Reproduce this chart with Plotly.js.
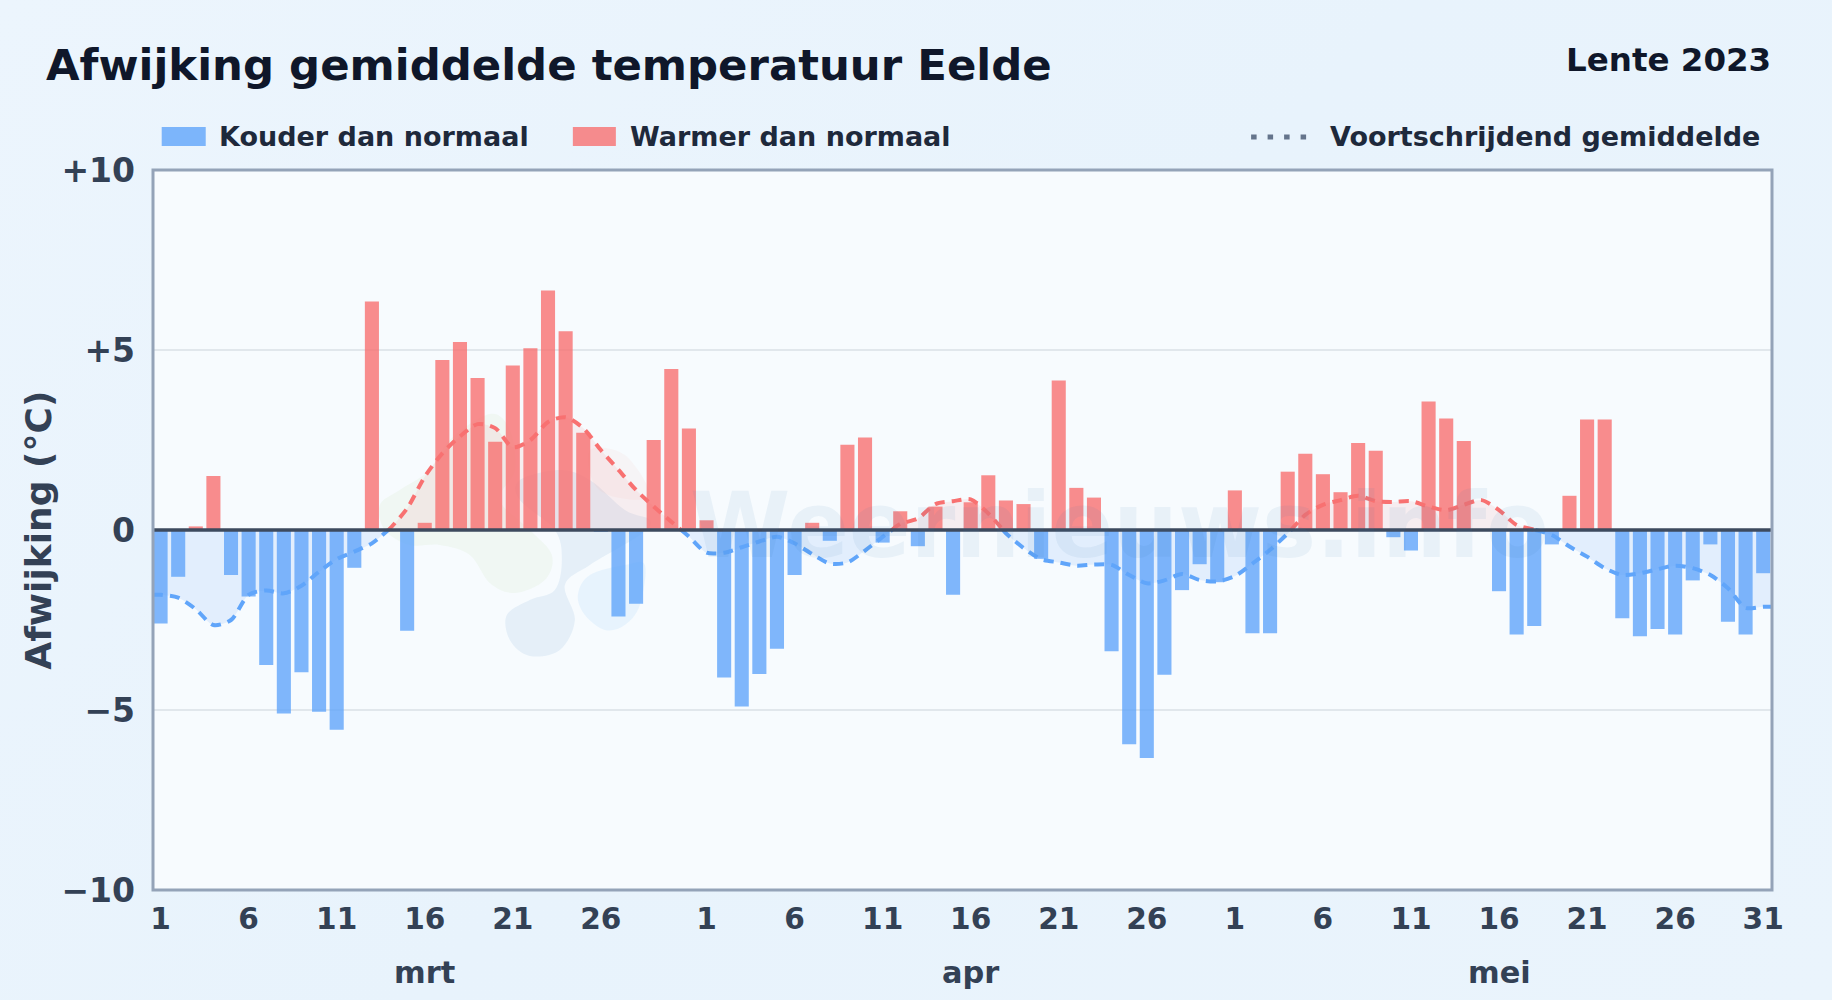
<!DOCTYPE html>
<html><head><meta charset="utf-8">
<script src="https://cdn.plot.ly/plotly-3.0.1.min.js"></script>
<style>html,body{margin:0;padding:0;width:1832px;height:1000px;overflow:hidden;background:linear-gradient(135deg,#ecf5fd 0%,#e8f3fc 50%,#eaf4fc 100%);}</style>
</head><body><div id="chart" style="width:1832px;height:1000px"></div>
<script>
// Afwijking t.o.v. normaal, per dag (1 mrt - 31 mei 2023)
const maartAfwijking = [-2.6,-1.3,0.1,1.5,-1.25,-1.85,-3.75,-5.1,-3.95,-5.05,-5.55,-1.05,6.35,0,-2.8,0.2,4.72,5.22,4.22,2.45,4.57,5.05,6.65,5.52,2.7,-0.05,-2.4,-2.05,2.5,4.47,2.82];
const aprilAfwijking = [0.27,-4.1,-4.9,-4.0,-3.3,-1.25,0.2,-0.3,2.37,2.57,-0.35,0.52,-0.45,0.65,-1.8,0.77,1.52,0.82,0.72,-0.8,4.15,1.17,0.9,-3.37,-5.95,-6.33,-4.02,-1.67,-0.95,-1.45];
const meiAfwijking = [1.1,-2.87,-2.87,1.62,2.12,1.55,1.05,2.42,2.2,-0.2,-0.57,3.57,3.1,2.47,0,-1.7,-2.9,-2.67,-0.4,0.95,3.07,3.07,-2.45,-2.95,-2.75,-2.9,-1.4,-0.4,-2.55,-2.9,-1.2];
// Voortschrijdend gemiddelde
const maartGemiddelde = [-1.8,-1.88,-2.2,-2.64,-2.5,-1.8,-1.68,-1.76,-1.55,-1.16,-0.81,-0.6,-0.37,0.03,0.6,1.48,2.13,2.6,2.94,2.83,2.3,2.5,3.0,3.13,2.83,2.22,1.67,1.11,0.65,0.23,-0.18];
const aprilGemiddelde = [-0.63,-0.63,-0.48,-0.32,-0.19,-0.37,-0.67,-0.93,-0.9,-0.57,-0.19,0.17,0.32,0.72,0.8,0.85,0.46,-0.09,-0.5,-0.81,-0.9,-0.99,-0.96,-0.97,-1.25,-1.48,-1.4,-1.22,-1.39,-1.43];
const meiGemiddelde = [-1.28,-0.93,-0.55,-0.1,0.42,0.7,0.83,0.95,0.8,0.78,0.8,0.65,0.55,0.7,0.83,0.55,0.14,0.01,-0.14,-0.46,-0.74,-1.06,-1.25,-1.2,-1.09,-0.99,-1.06,-1.25,-1.62,-2.16,-2.13];
const dagLabels = ['1','6','11','16','21','26'];
const xTickLabels = [...dagLabels, ...dagLabels, ...dagLabels, '31'];
const xTickDagen = [0,5,10,15,20,25, 31,36,41,46,51,56, 61,66,71,76,81,86,91];
const maanden = ['mrt','apr','mei'];
const maandMidden = [15,46,76];
const yTicks = [-10,-5,0,5,10];
const yTickLabels = ['\u221210','\u22125','0','+5','+10'];
const reeksNamen = ['Kouder dan normaal','Warmer dan normaal','Voortschrijdend gemiddelde'];

const afwijking = [...maartAfwijking, ...aprilAfwijking, ...meiAfwijking];
const gemiddelde = [...maartGemiddelde, ...aprilGemiddelde, ...meiGemiddelde];
const dagen = afwijking.map((_, i) => i);
const xBereik = [-0.43, 91.5];

function splitSign(xs, ys) {
  const pos = {x:[], y:[]}, neg = {x:[], y:[]};
  for (let i = 0; i < ys.length; i++) {
    pos.x.push(xs[i]); neg.x.push(xs[i]);
    pos.y.push(ys[i] >= 0 ? ys[i] : null);
    neg.y.push(ys[i] < 0 ? ys[i] : null);
    if (i < ys.length - 1 && ys[i] * ys[i+1] < 0) {
      const xc = xs[i] + ys[i] / (ys[i] - ys[i+1]);
      pos.x.push(xc); pos.y.push(0);
      neg.x.push(xc); neg.y.push(0);
    }
  }
  return {pos, neg};
}
// de lijn loopt door tot aan de randen van het plotvlak
const {pos, neg} = splitSign([xBereik[0], ...dagen, xBereik[1]],
  [gemiddelde[0], ...gemiddelde, gemiddelde[gemiddelde.length-1]]);

const L = 153.3, R = 1771.7, T = 170, B = 890;
const px = v => (v - L) / (R - L);
const py = v => (B - v) / (B - T);

const traces = [
  {type:'bar', name:reeksNamen[0], x:dagen, y:afwijking.map(v => v < 0 ? v : null), width:0.8,
   marker:{color:'rgba(96,165,250,0.8)', line:{width:0}}, showlegend:false, hoverinfo:'x+y'},
  {type:'bar', name:reeksNamen[1], x:dagen, y:afwijking.map(v => v > 0 ? v : null), width:0.8,
   marker:{color:'rgba(248,113,113,0.8)', line:{width:0}}, showlegend:false, hoverinfo:'x+y'},
  {type:'scatter', mode:'lines', name:reeksNamen[2], x:neg.x, y:neg.y, fill:'tozeroy', fillcolor:'rgba(96,165,250,0.14)',
   line:{color:'#60a5fa', width:4, dash:'10px,7px', shape:'spline', smoothing:0.8}, showlegend:false, hoverinfo:'skip'},
  {type:'scatter', mode:'lines', name:reeksNamen[2], x:pos.x, y:pos.y, fill:'tozeroy', fillcolor:'rgba(248,113,113,0.10)',
   line:{color:'#f87171', width:4, dash:'10px,7px', shape:'spline', smoothing:0.8}, showlegend:false, hoverinfo:'skip'}
];

function blob(pts, fill) {
  const n = pts.length, P = pts.map(p => [px(p[0]), py(p[1])]);
  let d = `M${P[0][0]},${P[0][1]}`;
  for (let i = 0; i < n; i++) {
    const p0 = P[(i-1+n)%n], p1 = P[i], p2 = P[(i+1)%n], p3 = P[(i+2)%n];
    const c1 = [p1[0]+(p2[0]-p0[0])/6, p1[1]+(p2[1]-p0[1])/6];
    const c2 = [p2[0]-(p3[0]-p1[0])/6, p2[1]-(p3[1]-p1[1])/6];
    d += `C${c1[0]},${c1[1]} ${c2[0]},${c2[1]} ${p2[0]},${p2[1]}`;
  }
  return {type:'path', path:d+'Z', xref:'paper', yref:'paper', fillcolor:fill, line:{width:0}, layer:'below'};
}
const watermerk = [
  blob([[490,414],[510,430],[515,470],[500,500],[530,530],[552,555],[545,580],[515,593],[490,583],[470,555],[440,545],[410,545],[385,530],[380,505],[400,490],[430,470],[450,440]], 'rgba(190,225,170,0.13)'),
  blob([[520,480],[560,470],[590,480],[625,510],[650,520],[640,535],[590,565],[565,585],[575,620],[560,650],[530,656],[510,640],[507,615],[530,600],[555,590],[562,560],[555,530],[520,500]], 'rgba(110,160,205,0.13)'),
  blob([[590,575],[625,565],[645,565],[640,605],[625,625],[605,630],[585,615],[578,595]], 'rgba(150,205,250,0.16)'),
  blob([[590,450],[625,455],[650,495],[620,498],[595,485]], 'rgba(248,170,150,0.08)')
];

const ann = (text, x, y, size, color, anchor) => ({text, x:px(x), y:py(y), xref:'paper', yref:'paper', showarrow:false,
  xanchor:anchor||'left', yanchor:'middle', font:{family:'"DejaVu Sans"', size, color, weight:700}});
const annotations = [
  ann('Afwijking gemiddelde temperatuur Eelde', 44, 65, 43.4, '#0f172a'),
  ann('Lente 2023', 1773, 60, 32.5, '#0f172a', 'right'),
  ann(reeksNamen[0], 217, 137, 27, '#1e293b'),
  ann(reeksNamen[1], 628, 137, 27, '#1e293b'),
  ann(reeksNamen[2], 1328, 137, 27, '#1e293b'),
  {text:'Weernieuws.info', x:px(1119), y:py(525), xref:'paper', yref:'paper', showarrow:false, xanchor:'center', yanchor:'middle',
   font:{family:'"DejaVu Sans"', size:91, color:'rgba(60,120,180,0.075)', weight:700}},
  {text:'Afwijking (\u00b0C)', x:px(38), y:py(530), xref:'paper', yref:'paper', showarrow:false, textangle:-90, xanchor:'center', yanchor:'middle',
   font:{family:'"DejaVu Sans"', size:36, color:'#334155', weight:700}},
  ...maanden.map((m, i) => ({text:m, x:maandMidden[i], y:py(972), xref:'x', yref:'paper', showarrow:false, xanchor:'center', yanchor:'middle',
   font:{family:'"DejaVu Sans"', size:30.4, color:'#334155', weight:700}}))
];

const swatch = (x0, x1, color) => ({type:'rect', xref:'paper', yref:'paper', x0:px(x0), x1:px(x1), y0:py(127), y1:py(146), fillcolor:color, line:{width:0}});
const shapes = [
  ...watermerk,
  swatch(162, 206, 'rgba(96,165,250,0.8)'),
  swatch(573, 616, 'rgba(248,113,113,0.8)'),
  {type:'line', xref:'paper', yref:'paper', x0:px(1251), x1:px(1307), y0:py(137), y1:py(137), line:{color:'#64748b', width:5, dash:'5.5px,11px'}},
  {type:'line', xref:'paper', yref:'y', x0:0, x1:1, y0:0, y1:0, line:{color:'#3d4a5e', width:3.4}},
  {type:'rect', xref:'paper', yref:'paper', x0:0, x1:1, y0:0, y1:1, fillcolor:'rgba(0,0,0,0)', line:{color:'#94a3b8', width:3}}
];

const layout = {
  width:1832, height:1000, margin:{l:L, r:1832-R, t:T, b:1000-B, pad:0},
  paper_bgcolor:'rgba(0,0,0,0)', plot_bgcolor:'#f7fbfe', barmode:'overlay', showlegend:false, hovermode:false,
  xaxis:{range:xBereik, tickmode:'array', tickvals:xTickDagen, ticktext:xTickLabels, showgrid:false, zeroline:false,
    ticks:'', ticklabelstandoff:8, tickangle:0, showline:false,
    tickfont:{family:'"DejaVu Sans"', size:29.6, color:'#334155', weight:700}},
  yaxis:{range:[-10,10], tickmode:'array', tickvals:yTicks, ticktext:yTickLabels, showgrid:true, gridcolor:'#e1e7ec', gridwidth:1.5, zeroline:false,
    ticks:'', ticklabelstandoff:17, showline:false,
    tickfont:{family:'"DejaVu Sans"', size:33, color:'#334155', weight:700}},
  annotations, shapes
};
Plotly.newPlot('chart', traces, layout, {displayModeBar:false, staticPlot:true});
</script></body></html>
